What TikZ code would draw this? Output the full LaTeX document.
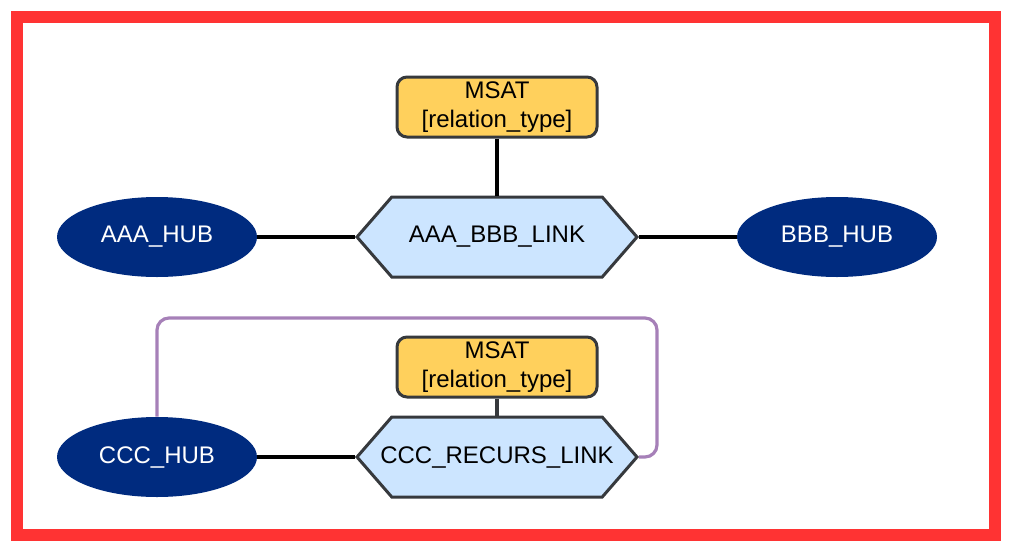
\documentclass[tikz,border=0pt]{standalone}
\usepackage{fontspec}
\setmainfont{Liberation Sans}
\usetikzlibrary{shapes.geometric,shapes.symbols}

\definecolor{hubblue}{HTML}{002B7F}
\definecolor{linkblue}{HTML}{CCE5FF}
\definecolor{satyellow}{HTML}{FFD05C}
\definecolor{edgegray}{HTML}{36393D}
\definecolor{loopviolet}{HTML}{A680B8}
\definecolor{framered}{HTML}{FF3333}

\tikzset{
  hub/.style={ellipse, fill=hubblue, text=white, minimum width=100pt, minimum height=40pt, inner sep=0pt},
  link/.style={signal, signal to=west and east, signal pointer angle=98, draw=edgegray, line width=1.5pt, fill=linkblue, minimum width=140pt, minimum height=40pt, inner sep=0pt},
  sat/.style={rectangle, rounded corners=5pt, draw=edgegray, line width=1.5pt, fill=satyellow, minimum width=100pt, minimum height=30pt, inner sep=0pt, align=center},
  wire/.style={line width=1.6pt, black},
  loopwire/.style={line width=1.6pt, loopviolet, rounded corners=6pt}
}

\begin{document}
\begin{tikzpicture}[x=0.5pt, y=-0.5pt, font=\fontsize{12}{14.5}\selectfont]
\useasboundingbox (0,0) rectangle (1012,552);

%% frame
\draw[line width=6pt, framered] (17,17) rectangle (995,535);

%% upper link
\node[hub] (aaahub) at (157,237) {AAA\_HUB};
\node[hub] (bbbhub) at (837,237) {BBB\_HUB};
\node[link] (aaabbb) at (497,237) {\makebox[0pt]{AAA\_BBB\_LINK}};
\node[sat] (msatone) at (497,107) {MSAT\\{[relation\_type]}};

%% lower link
\node[hub] (ccchub) at (157,457) {CCC\_HUB};
\node[link] (recurs) at (497,457) {\makebox[0pt]{CCC\_RECURS\_LINK}};
\node[sat] (msattwo) at (497,367) {MSAT\\{[relation\_type]}};
\coordinate (turn) at (657,318);

%% edges
\draw[wire] (aaahub) -- (aaabbb.west);     %% aaa - link
\draw[wire] (aaabbb.east) -- (bbbhub);     %% link - bbb
\draw[wire] (msatone) -- (aaabbb.north);   %% sat - link
\draw[wire] (ccchub) -- (recurs.west);     %% ccc - recurs
\draw[wire, edgegray] (msattwo) -- (recurs.north); %% sat - recurs
\draw[loopwire] (ccchub.north) |- (turn) |- (recurs.east); %% recursion
\end{tikzpicture}
\end{document}
